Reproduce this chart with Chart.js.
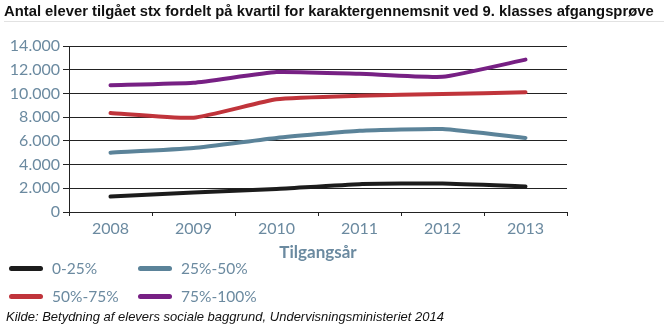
<!DOCTYPE html>
<html>
<head>
<meta charset="utf-8">
<script src="https://cdn.jsdelivr.net/npm/chart.js@4"></script>
<style>
  html, body { margin: 0; padding: 0; background: #fff; }
  #wrap { position: relative; width: 668px; height: 330px; overflow: hidden; }
  #chart { position: absolute; left: 0; top: 0; }
  #title {
    position: absolute; left: 4px; top: 3px; white-space: nowrap;
    font: bold 14.8px "Liberation Sans", Arial, sans-serif; color: #111;
    border-bottom: 1px solid #e2e2e2; padding-bottom: 2px; width: 660px;
  }
  #legend { position: absolute; left: 9px; top: 259px; }
  .item { position: absolute; display: flex; align-items: center; white-space: nowrap;
    font: 15.5px Lato, sans-serif; color: #6b8aa0; }
  .swatch { width: 34px; height: 5px; border-radius: 3px; margin-right: 9px; }
  #source {
    position: absolute; left: 6px; top: 309px; white-space: nowrap;
    font: italic 13px "Liberation Sans", Arial, sans-serif; color: #111;
  }
</style>
</head>
<body>
<div id="wrap">
  <canvas id="chart" width="668" height="330"></canvas>
  <div id="title">Antal elever tilgået stx fordelt på kvartil for karaktergennemsnit ved 9. klasses afgangsprøve</div>
  <div id="legend"></div>
  <div id="source">Kilde: Betydning af elevers sociale baggrund, Undervisningsministeriet 2014</div>
</div>
<script>
// Data
const years = ['2008', '2009', '2010', '2011', '2012', '2013'];
const seriesNames = ['0-25%', '25%-50%', '50%-75%', '75%-100%'];
const q1 = [1300, 1650, 1950, 2350, 2400, 2150];
const q2 = [5000, 5400, 6250, 6850, 7000, 6250];
const q3 = [8350, 7950, 9500, 9800, 9950, 10100];
const q4 = [10700, 10900, 11800, 11650, 11400, 12850];
const yTicks = [0, 2000, 4000, 6000, 8000, 10000, 12000, 14000];

const colors = ['#1c1c1c', '#5b8399', '#c0343b', '#772084'];
const tickColor = '#6b8aa0';

const allSeries = [q1, q2, q3, q4];

// legend (2 kolonner, 2 rækker)
const legendPos = [[0, 0], [129, 0], [0, 28], [129, 28]];
const legend = document.getElementById('legend');
seriesNames.forEach((name, i) => {
  const el = document.createElement('div');
  el.className = 'item';
  el.style.left = legendPos[i][0] + 'px';
  el.style.top = legendPos[i][1] + 'px';
  el.innerHTML = `<span class="swatch" style="background:${colors[i]}"></span>${name}`;
  legend.appendChild(el);
});

function fmt(v) {
  return String(v).replace(/\B(?=(\d{3})+(?!\d))/g, '.');
}

const ctx = document.getElementById('chart').getContext('2d');
new Chart(ctx, {
  type: 'line',
  data: {
    labels: years,
    datasets: allSeries.map((d, i) => ({
      label: seriesNames[i],
      data: d,
      borderColor: colors[i],
      backgroundColor: colors[i],
      borderWidth: 4,
      pointRadius: 0,
      tension: 0.15,
      borderCapStyle: 'round'
    }))
  },
  options: {
    responsive: false,
    animation: false,
    layout: { padding: { top: 46, right: 101, bottom: 67, left: 0 } },
    plugins: { legend: { display: false }, tooltip: { enabled: false } },
    scales: {
      x: {
        offset: true,
        grid: { drawOnChartArea: false, drawTicks: true, tickLength: 4, color: '#222', offset: true },
        border: { display: true, color: '#222', width: 1 },
        ticks: { color: tickColor, font: { family: 'Lato', size: 16 }, padding: 3, maxRotation: 0 },
        title: {
          display: true, text: 'Tilgangsår', color: tickColor,
          font: { family: 'Lato', size: 17, weight: 'bold' }, padding: { top: 0, bottom: 0 }
        },
        afterFit: s => { s.height = 51; }
      },
      y: {
        min: 0, max: 14000,
        afterBuildTicks: s => { s.ticks = yTicks.map(v => ({ value: v })); },
        grid: { color: '#222', lineWidth: 1, tickLength: 6 },
        border: { display: true, color: '#222', width: 1 },
        ticks: { color: tickColor, font: { family: 'Lato', size: 16 }, padding: 3, callback: v => fmt(v) },
        afterFit: s => { s.width = 69; }
      }
    }
  }
});
</script>
</body>
</html>
